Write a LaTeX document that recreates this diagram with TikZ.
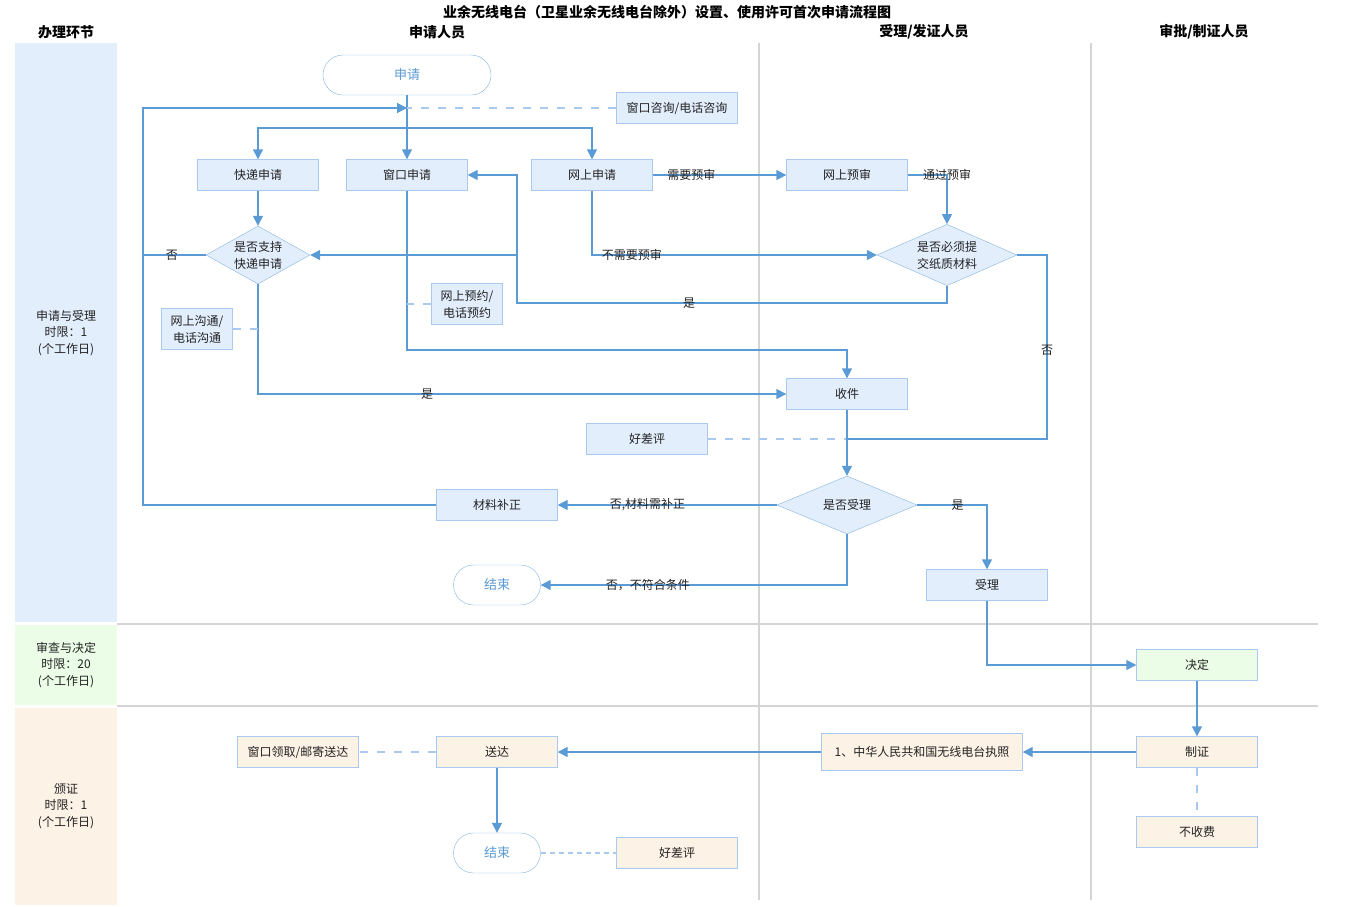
\documentclass[tikz,border=0pt]{standalone}
\usepackage{fontspec}
\setmainfont{Noto Sans CJK SC}
\usepackage{xcolor}
\usetikzlibrary{arrows.meta, positioning, shapes.geometric}
\definecolor{boxblue}{HTML}{E3EEFD}
\definecolor{boxline}{HTML}{A9C9EE}
\definecolor{flowblue}{HTML}{5B9BD5}
\definecolor{lanegreen}{HTML}{EBFDE7}
\definecolor{lanepeach}{HTML}{FDF2E6}
\definecolor{lanegray}{HTML}{D4D4D4}
\definecolor{txt}{HTML}{222222}

\begin{document}
\begin{tikzpicture} [x=1pt, y=-1pt, font=\fontsize{12}{17}\selectfont,
	box/.style = {draw=boxline, fill=boxblue, text=txt, minimum width=121pt, minimum height=31pt, inner sep=2pt, align=center},
	decision/.style = {diamond, draw=flowblue!75, fill=boxblue, text=txt, aspect=1.8, inner sep=0pt, minimum width=140pt, minimum height=58pt, align=center},
	terminal/.style = {draw=flowblue!75, fill=white, text=flowblue, rounded corners=20pt, minimum height=40pt, minimum width=87pt, font=\fontsize{13}{15}\selectfont},
	flow/.style = {draw=flowblue, line width=1.4pt, -{Triangle[length=10pt, width=10pt]}},
	link/.style = {draw=flowblue, line width=1.4pt},
	dashline/.style = {draw=boxline, line width=1.4pt, dash pattern=on 8pt off 9pt},
	lbl/.style = {text=txt, inner sep=1pt},
	head/.style = {font=\fontsize{14}{16}\selectfont\bfseries, text=black}]
	% Canvas
	\useasboundingbox (0,0) rectangle (1350,906);
	% Lanes
	\fill [boxblue] (15,43) rectangle (117,622);
	\fill [lanegreen] (15,625) rectangle (117,705);
	\fill [lanepeach] (15,708) rectangle (117,905);
	\draw [lanegray, line width=1.2pt] (759,43) -- (759,900);
	\draw [lanegray, line width=1.2pt] (1091,43) -- (1091,900);
	\draw [lanegray, line width=1.8pt] (117,624) -- (1318,624);
	\draw [lanegray, line width=1.8pt] (117,706) -- (1318,706);
	% Headers
	\node (title) [head] at (667,12) {业余无线电台（卫星业余无线电台除外）设置、使用许可首次申请流程图};
	\node (h0) [head] at (66,32) {办理环节};
	\node (h1) [head] at (437,32) {申请人员};
	\node (h2) [head] at (924,32) {受理/发证人员};
	\node (h3) [head] at (1204,32) {审批/制证人员};
	\node (l1) [text=txt, align=center, font=\fontsize{12}{16.5}\selectfont] at (66,333) {申请与受理\\时限：1\\(个工作日)};
	\node (l2) [text=txt, align=center, font=\fontsize{12}{16.5}\selectfont] at (66,665) {审查与决定\\时限：20\\(个工作日)};
	\node (l3) [text=txt, align=center, font=\fontsize{12}{16.5}\selectfont] at (66,806) {颁证\\时限：1\\(个工作日)};
	% Apply and accept
	\node (apply) [terminal, minimum width=168pt] at (407,75) {申请};
	\node (consult) [box] at (677,108) {窗口咨询/电话咨询};
	\node (express) [box] at (258,175) {快递申请};
	\node (window) [box] at (407,175) {窗口申请};
	\node (online) [box] at (592,175) {网上申请};
	\node (precheck) [box] at (847,175) {网上预审};
	\node (expq) [decision, minimum width=104pt] at (258,255) {是否支持\\快递申请};
	\node (paperq) [decision] at (947,255) {是否必须提\\交纸质材料};
	\node (booking) [box, minimum width=71pt, minimum height=41pt] at (467,304) {网上预约/\\电话预约};
	\node (talk) [box, minimum width=71pt, minimum height=41pt] at (197,329) {网上沟通/\\电话沟通};
	\node (receive) [box] at (847,394) {收件};
	\node (rating) [box] at (647,439) {好差评};
	\node (acceptq) [decision] at (847,505) {是否受理};
	\node (fix) [box] at (497,505) {材料补正};
	\node (end1) [terminal] at (497,585) {结束};
	\node (accept) [box] at (987,585) {受理};
	% Review and issue
	\node (decide) [box, fill=lanegreen] at (1197,665) {决定};
	\node (issue) [box, fill=lanepeach] at (1197,752) {制证};
	\node (licence) [box, fill=lanepeach, minimum width=201pt, minimum height=37pt] at (922,752) {1、中华人民共和国无线电台执照};
	\node (deliver) [box, fill=lanepeach] at (497,752) {送达};
	\node (pickup) [box, fill=lanepeach] at (298,752) {窗口领取/邮寄送达};
	\node (end2) [terminal] at (497,853) {结束};
	\node (rating2) [box, fill=lanepeach] at (677,853) {好差评};
	\node (nofee) [box, fill=lanepeach] at (1197,832) {不收费};
	% Joints
	\coordinate (loopin) at (407,108);
	\coordinate (back) at (143,108);
	\coordinate (split) at (407,128);
	\coordinate (noexp) at (143,255);
	\coordinate (bk) at (407,304);
	\coordinate (tk) at (258,329);
	\coordinate (w1) at (847,350);
	\coordinate (yes1) at (517,303);
	\coordinate (yes2) at (517,255);
	\coordinate (no1) at (1047,439);
	\coordinate (merge) at (847,439);
	% Draw Arrows/Connections
	\draw [flow] (apply) -- (window);
	\draw [flow] (split) -| (express);
	\draw [flow] (split) -| (online);
	\draw [flow] (fix) -| (back) -- (loopin);
	\draw [link] (expq) -- node [lbl, pos=0.54] {否} (noexp);
	\draw [dashline] (consult) -- (loopin);
	\draw [flow] (express) -- (expq);
	\draw [flow] (window) |- (w1) -- (receive);
	\draw [dashline] (booking) -- (bk);
	\draw [flow] (online) -- node [lbl, pos=0.29] {需要预审} (precheck);
	\draw [flow] (online) |- node [lbl, pos=0.57] {不需要预审} (paperq);
	\draw [flow] (precheck) -| node [lbl, pos=0.5] {通过预审} (paperq);
	\draw [flow] (paperq.south) |- node [lbl, pos=0.8] {是} (yes1) |- (window);
	\draw [flow] (yes2) -- (expq);
	\draw [link] (paperq) -| node [lbl, pos=0.76] {否} (no1) -- (merge);
	\draw [dashline] (rating) -- (merge);
	\draw [flow] (expq) |- node [lbl, pos=0.66] {是} (receive);
	\draw [dashline] (talk) -- (tk);
	\draw [flow] (receive) -- (acceptq);
	\draw [flow] (acceptq) -- node [lbl, pos=0.59] {否,材料需补正} (fix);
	\draw [flow] (acceptq) |- node [lbl, pos=0.825] {否，不符合条件} (end1);
	\draw [flow] (acceptq) -| node [lbl, pos=0.29] {是} (accept);
	\draw [flow] (accept) |- (decide);
	\draw [flow] (decide) -- (issue);
	\draw [flow] (issue) -- (licence);
	\draw [flow] (licence) -- (deliver);
	\draw [dashline] (deliver) -- (pickup);
	\draw [flow] (deliver) -- (end2);
	\draw [dashline, dash pattern=on 5pt off 4pt] (end2) -- (rating2);
	\draw [dashline] (issue) -- (nofee);
\end{tikzpicture}
\end{document}
